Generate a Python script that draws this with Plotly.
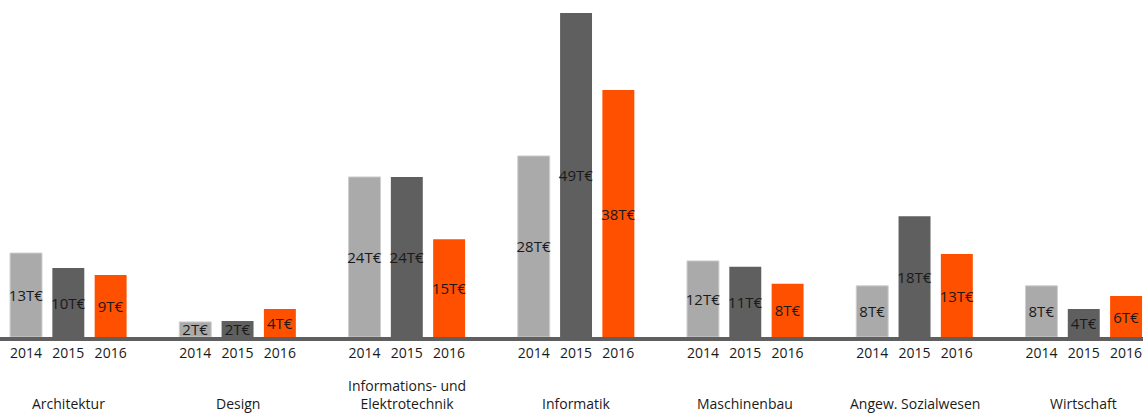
import plotly.graph_objects as go

categories = ["Architektur", "Design", "Informations- und<br>Elektrotechnik", "Informatik",
              "Maschinenbau", "Angew. Sozialwesen", "Wirtschaft"]
years = ["2014", "2015", "2016"]
values_2014 = [12.8, 2.3, 24.4, 27.6, 11.6, 7.8, 7.8]
values_2015 = [10.5, 2.45, 24.4, 49.4, 10.7, 18.4, 4.27]
values_2016 = [9.45, 4.27, 14.9, 37.65, 8.1, 12.65, 6.25]
labels_2014 = ["13T€", "2T€", "24T€", "28T€", "12T€", "8T€", "8T€"]
labels_2015 = ["10T€", "2T€", "24T€", "49T€", "11T€", "18T€", "4T€"]
labels_2016 = ["9T€", "4T€", "15T€", "38T€", "8T€", "13T€", "6T€"]

colors = ["#aaaaaa", "#5f5f5f", "#ff5000"]
series = [values_2014, values_2015, values_2016]
labels = [labels_2014, labels_2015, labels_2016]

slots = len(years) + 1  # one empty slot between groups
FONT = "Open Sans"
TXT = "#1a1a1a"

fig = go.Figure()
tickvals, ticktext = [], []
for j, (yr, vals, labs, col) in enumerate(zip(years, series, labels, colors)):
    xs = [i * slots + j for i in range(len(categories))]
    tickvals += xs
    ticktext += [yr] * len(xs)
    fig.add_trace(go.Bar(
        x=xs, y=vals, text=labs, name=yr,
        marker=dict(color=col, line=dict(width=1 if j == 0 else 0, color="#cfcfcf")),
        width=0.755,
        textposition="inside", insidetextanchor="middle", textangle=0,
        textfont=dict(family=FONT, size=15, color=TXT),
        hoverinfo="skip",
    ))

for i, cat in enumerate(categories):
    fig.add_annotation(
        x=i * slots + 1, y=-0.232, xref="x", yref="paper",
        text=cat, showarrow=False, yanchor="bottom", xanchor="center",
        font=dict(family=FONT, size=14, color=TXT),
    )

fig.update_layout(
    width=1143, height=414,
    margin=dict(l=0, r=0, t=0, b=77),
    paper_bgcolor="white", plot_bgcolor="white",
    showlegend=False,
    uniformtext=dict(minsize=15, mode="show"),
    font=dict(family=FONT, size=14, color=TXT),
)
fig.update_xaxes(
    range=[-0.615, 26.40], tickmode="array", tickvals=tickvals, ticktext=ticktext,
    showline=True, linecolor="#5f5f5f", linewidth=4, showgrid=False, zeroline=False,
    ticks="", tickfont=dict(family=FONT, size=14, color=TXT),
)
fig.update_yaxes(range=[0, 51.37], visible=False, showgrid=False, zeroline=False)

fig.write_html(
    "out.html",
    config={"displayModeBar": False},
    post_script="document.body.style.margin='0';document.body.style.overflow='hidden';",
)
